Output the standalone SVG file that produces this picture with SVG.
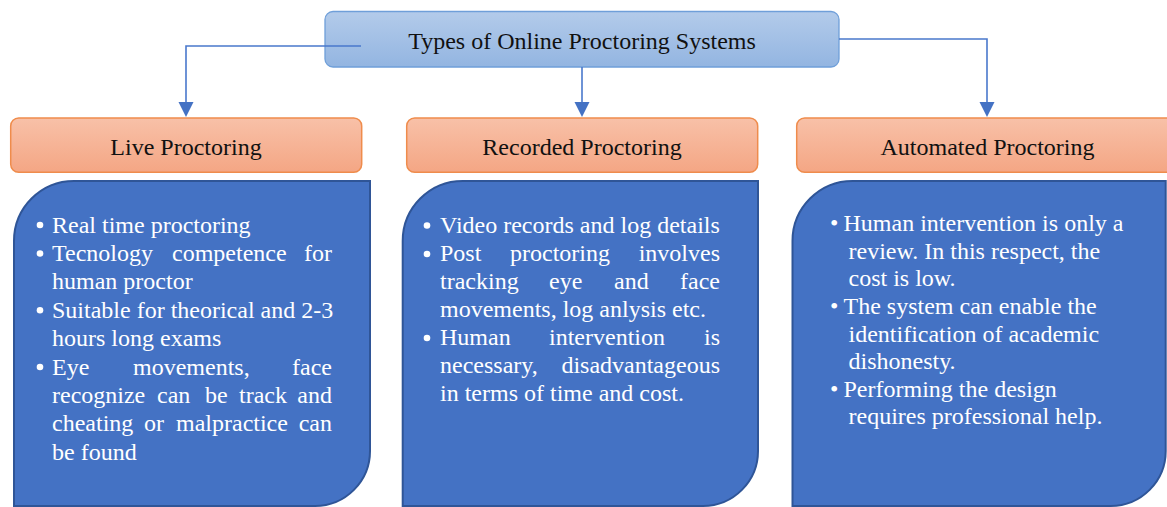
<svg xmlns="http://www.w3.org/2000/svg" width="1167" height="507" viewBox="0 0 1167 507">
<defs>
<linearGradient id="gTitle" x1="0" y1="0" x2="0" y2="1"><stop offset="0" stop-color="#b3cbea"/><stop offset="1" stop-color="#93b5e1"/></linearGradient>
<linearGradient id="gHead" x1="0" y1="0" x2="0" y2="1"><stop offset="0" stop-color="#f8c1a8"/><stop offset="1" stop-color="#f4a684"/></linearGradient>
</defs>
<style>
.title{fill:url(#gTitle);stroke:#6f9fd9;stroke-width:1.3}
.head{fill:url(#gHead);stroke:#ef8c4c;stroke-width:1.5}
.body{fill:#4472c4;stroke:#2f5597;stroke-width:2}
.tt{font-family:"Liberation Serif","Times New Roman",serif;font-size:24px;fill:#111;text-anchor:middle}
.bt{font-family:"Liberation Serif","Times New Roman",serif;font-size:24px;fill:#fff}
.at{font-family:"Liberation Serif","Times New Roman",serif;font-size:24px;fill:#fff}
.dot{fill:#fff}
.conn{fill:none;stroke:#4a78cc;stroke-width:1.6}
.ah{fill:#4472c4}
</style>

<g id="root">
<rect class="title" x="325" y="11.5" width="514" height="55.5" rx="8"/>
<text class="tt" x="582" y="49">Types of Online Proctoring Systems</text>
</g>

<g id="connectors">
<path class="conn" d="M361,46 H186 V102"/>
<path class="ah" d="M178.5,102 L193.5,102 L186,117 Z"/>
<path class="conn" d="M582,67 V102"/>
<path class="ah" d="M574.5,102 L589.5,102 L582,117 Z"/>
<path class="conn" d="M839,39 H987 V102"/>
<path class="ah" d="M979.5,102 L994.5,102 L987,117 Z"/>
</g>

<g id="live">
<rect class="head" x="10.7" y="118" width="351" height="54.3" rx="8"/>
<text class="tt" x="186" y="155">Live Proctoring</text>
<path class="body" d="M14,241 A60,60 0 0 1 74,181 L370,181 L370,451 A55,55 0 0 1 315,506 L14,506 Z"/>
<circle class="dot" cx="40" cy="225" r="3.3"/>
<circle class="dot" cx="40" cy="253.5" r="3.3"/>
<circle class="dot" cx="40" cy="310.3" r="3.3"/>
<circle class="dot" cx="40" cy="367" r="3.3"/>
<text class="bt" x="52" y="232.5">Real time proctoring</text>
<text class="bt" y="261"><tspan x="52">Tecnology</tspan><tspan x="172">competence</tspan><tspan x="332" text-anchor="end">for</tspan></text>
<text class="bt" x="52" y="289.3">human proctor</text>
<text class="bt" x="52" y="317.7">Suitable for theorical and 2-3</text>
<text class="bt" x="52" y="346">hours long exams</text>
<text class="bt" y="374.5"><tspan x="52">Eye</tspan><tspan x="133">movements,</tspan><tspan x="332" text-anchor="end">face</tspan></text>
<text class="bt" y="402.8"><tspan x="52">recognize</tspan><tspan x="157">can</tspan><tspan x="205">be</tspan><tspan x="239">track</tspan><tspan x="332" text-anchor="end">and</tspan></text>
<text class="bt" y="431.2"><tspan x="52">cheating</tspan><tspan x="144">or</tspan><tspan x="176">malpractice</tspan><tspan x="332" text-anchor="end">can</tspan></text>
<text class="bt" x="52" y="459.5">be found</text>
</g>

<g id="recorded">
<rect class="head" x="406.7" y="118" width="351" height="54.3" rx="8"/>
<text class="tt" x="582" y="155">Recorded Proctoring</text>
<path class="body" d="M402.7,241 A60,60 0 0 1 462.7,181 L758,181 L758,451 A55,55 0 0 1 703,506 L402.7,506 Z"/>
<circle class="dot" cx="427" cy="225.5" r="3.3"/>
<circle class="dot" cx="427" cy="254" r="3.3"/>
<circle class="dot" cx="427" cy="338" r="3.3"/>
<text class="bt" x="440" y="233">Video records and log details</text>
<text class="bt" y="261"><tspan x="440">Post</tspan><tspan x="510">proctoring</tspan><tspan x="720" text-anchor="end">involves</tspan></text>
<text class="bt" y="289"><tspan x="440">tracking</tspan><tspan x="549">eye</tspan><tspan x="614">and</tspan><tspan x="720" text-anchor="end">face</tspan></text>
<text class="bt" x="440" y="317">movements, log anlysis etc.</text>
<text class="bt" y="345"><tspan x="440">Human</tspan><tspan x="549">intervention</tspan><tspan x="720" text-anchor="end">is</tspan></text>
<text class="bt" y="373"><tspan x="440">necessary,</tspan><tspan x="720" text-anchor="end">disadvantageous</tspan></text>
<text class="bt" x="440" y="401">in terms of time and cost.</text>
</g>

<g id="automated">
<rect class="head" x="796.7" y="118" width="380" height="54.3" rx="8"/>
<text class="tt" x="987.5" y="155">Automated Proctoring</text>
<path class="body" d="M792.5,241 A60,60 0 0 1 852.5,181 L1165.7,181 L1165.7,451 A55,55 0 0 1 1110.7,506 L792.5,506 Z"/>
<text class="at" x="830" y="231">•</text>
<text class="at" x="830" y="314">•</text>
<text class="at" x="830" y="396.5">•</text>
<text class="at" x="843.5" y="231">Human intervention is only a</text>
<text class="at" x="848.5" y="258.5">review. In this respect, the</text>
<text class="at" x="848.5" y="286.2">cost is low.</text>
<text class="at" x="843.5" y="314">The system can enable the</text>
<text class="at" x="848.5" y="341.5">identification of academic</text>
<text class="at" x="848.5" y="369.2">dishonesty.</text>
<text class="at" x="843.5" y="396.7">Performing the design</text>
<text class="at" x="848.5" y="424.3">requires professional help.</text>
</g>
</svg>
